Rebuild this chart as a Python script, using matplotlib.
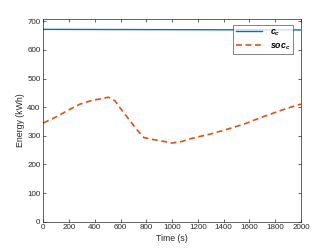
import matplotlib
matplotlib.use("Agg")
import matplotlib.pyplot as plt

# Data
t_cc = [0, 500, 1000, 1500, 2000]
cc = [672, 671.5, 671, 670.5, 670]

t_soc = [0, 90, 155, 220, 285, 357, 427, 505, 557, 600, 647, 693, 737, 781,
         853, 930, 1000, 1073, 1142, 1215, 1287, 1357, 1427, 1500, 1570,
         1637, 1707, 1777, 1845, 1920, 2000]
soc = [345, 364, 380, 396, 411, 421, 428, 435, 422, 395, 368, 341, 316, 294,
       287, 281, 275, 280, 290, 298, 305, 314, 323, 333, 343,
       355, 367, 378, 389, 400, 411]

xticks = [0, 200, 400, 600, 800, 1000, 1200, 1400, 1600, 1800, 2000]
yticks = [0, 100, 200, 300, 400, 500, 600, 700]

plt.rcParams['font.family'] = ['Liberation Sans', 'DejaVu Sans']
plt.rcParams['mathtext.fontset'] = 'custom'
plt.rcParams['mathtext.it'] = 'Liberation Sans:italic:bold'
plt.rcParams['mathtext.rm'] = 'Liberation Sans'

fig = plt.figure(figsize=(3.32, 2.49), dpi=100)
ax = fig.add_axes([0.1305, 0.1096, 0.7761, 0.8161])

ax.plot(t_cc, cc, color='#0072BD', lw=1.0, label=r'$c_c$')
ax.plot(t_soc, soc, color='#D95319', lw=1.2, ls=(0, (3.5, 2.2)), label=r'$soc_c$')

ax.set_xlim(0, 2000)
ax.set_ylim(0, 710)
ax.set_xticks(xticks)
ax.set_yticks(yticks)
gray = '#262626'
for s in ax.spines.values():
    s.set_color('#262626')
    s.set_linewidth(0.5)
ax.tick_params(direction='in', top=True, right=True, length=2.5, width=0.5,
               labelsize=5.8, colors=gray, pad=2)
ax.set_xlabel('Time (s)', fontsize=6.3, color=gray, labelpad=1.5)
ax.set_ylabel('Energy (kWh)', fontsize=6.3, color=gray, labelpad=2)

leg = ax.legend(loc='upper right', bbox_to_anchor=(0.97, 0.97), fontsize=6.3,
                frameon=True, fancybox=False, edgecolor='#262626',
                handlelength=3.0, borderpad=0.3, labelspacing=0.4,
                handletextpad=0.9, borderaxespad=0.0)
leg.get_frame().set_linewidth(0.5)

fig.savefig('out.png', dpi=100)
